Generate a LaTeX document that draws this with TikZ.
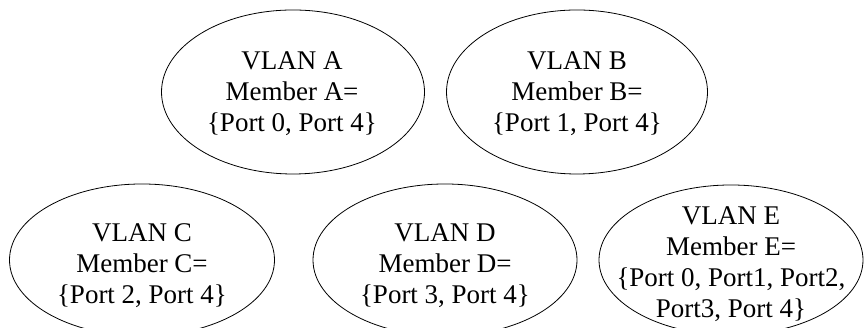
\documentclass[tikz,border=0pt]{standalone}
\usepackage{fontspec}
\setmainfont{Liberation Serif}
\usetikzlibrary{shapes.geometric}
\begin{document}
\begin{tikzpicture}[x=1pt,y=1pt,
  vlan/.style={draw, ellipse, line width=0.8pt, inner sep=0pt},
  vtext/.style={inner sep=0pt, align=center, font=\fontsize{27}{31}\selectfont}]
\useasboundingbox (0,0) rectangle (865,328);
\node[vlan, minimum width=263, minimum height=164] (A) at (293,236) {};
\node[vlan, minimum width=261, minimum height=164] (B) at (577,236) {};
\node[vlan, minimum width=265, minimum height=152] (C) at (142,68) {};
\node[vlan, minimum width=264, minimum height=152] (D) at (445,68) {};
\node[vlan, minimum width=264, minimum height=150] (E) at (731,68) {};
\node[vtext] (At) at (292,234) {VLAN A\\Member A=\\\{Port 0, Port 4\}};
\node[vtext] (Bt) at (577,234) {VLAN B\\Member B=\\\{Port 1, Port 4\}};
\node[vtext] (Ct) at (142,62) {VLAN C\\Member C=\\\{Port 2, Port 4\}};
\node[vtext] (Dt) at (445,62) {VLAN D\\Member D=\\\{Port 3, Port 4\}};
\node[vtext] (Et) at (731,64) {VLAN E\\Member E=\\\{Port 0, Port1, Port2,\\Port3, Port 4\}};
\end{tikzpicture}
\end{document}
